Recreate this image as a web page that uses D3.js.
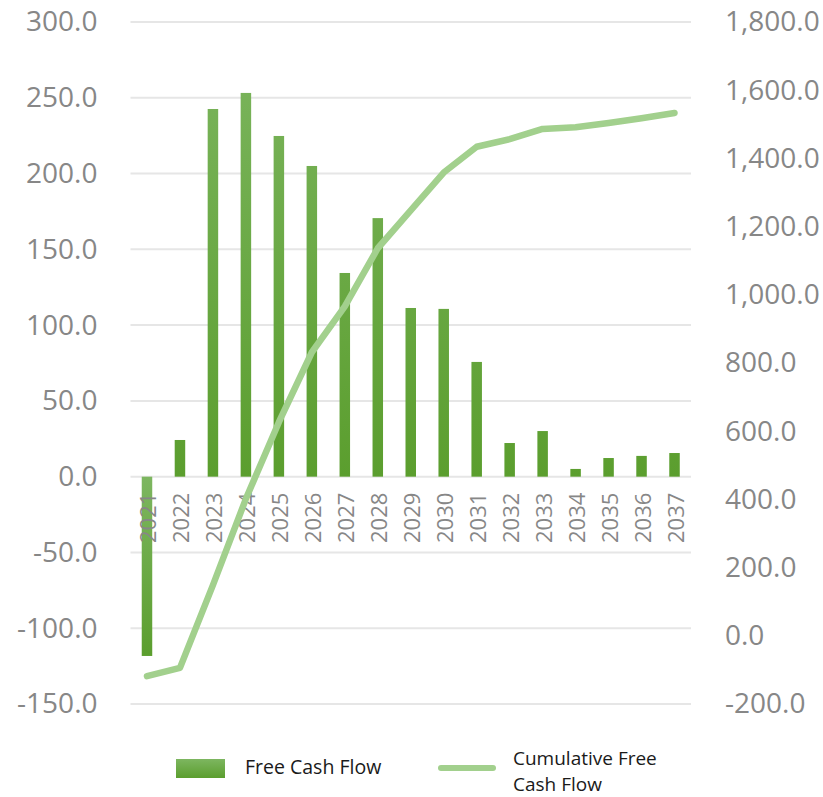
<!DOCTYPE html>
<html><head><meta charset="utf-8">
<script src="https://cdn.jsdelivr.net/npm/d3@7"></script>
<style>body{margin:0;background:#fff}svg{display:block}</style>
</head><body>
<svg id="chart" width="823" height="797"></svg>
<script>
const years = ["2021","2022","2023","2024","2025","2026","2027","2028","2029","2030","2031","2032","2033","2034","2035","2036","2037"];
const freeCashFlow = [-118.3, 24.2, 242.6, 253.2, 224.8, 205.0, 134.4, 170.6, 111.3, 110.7, 75.7, 22.2, 30.1, 5.1, 12.3, 13.7, 15.6];
const cumulativeFCF = [-118.3, -94.1, 148.5, 401.7, 626.5, 831.5, 965.9, 1136.5, 1247.8, 1358.5, 1434.2, 1456.4, 1486.5, 1491.6, 1503.9, 1517.6, 1533.2];
const leftTicks = [-150, -100, -50, 0, 50, 100, 150, 200, 250, 300];
const rightTicks = [-200, 0, 200, 400, 600, 800, 1000, 1200, 1400, 1600, 1800];
const seriesNames = ["Free Cash Flow", "Cumulative Free Cash Flow"];

(function () {
const svg = d3.select("#chart");
const font = "'Open Sans', 'Noto Sans', sans-serif";
const pL = 130.5, pR = 691, pT = 22, pB = 704;
const gray = "#878787";

const x = d3.scaleBand().domain(years).range([pL, pR]);
const yL = d3.scaleLinear().domain([-150, 300]).range([pB, pT]);
const yR = d3.scaleLinear().domain([-200, 1800]).range([pB, pT]);

const fmtL = d => d3.format(".1f")(d).replace("\u2212", "-");
const fmtR = d => d3.format(",.1f")(d).replace("\u2212", "-");

const defs = svg.append("defs");
const grad = defs.append("linearGradient").attr("id", "barGrad")
  .attr("x1", 0).attr("y1", 0).attr("x2", 0).attr("y2", 1);
grad.append("stop").attr("offset", "0%").attr("stop-color", "#7db660");
grad.append("stop").attr("offset", "100%").attr("stop-color", "#5b9e2e");
const grad2 = defs.append("linearGradient").attr("id", "barGradAbs")
  .attr("gradientUnits", "userSpaceOnUse")
  .attr("x1", 0).attr("y1", pT).attr("x2", 0).attr("y2", yL(0));
grad2.append("stop").attr("offset", "0%").attr("stop-color", "#7db660");
grad2.append("stop").attr("offset", "100%").attr("stop-color", "#5b9e2e");

// gridlines
svg.append("g").selectAll("line").data(leftTicks).join("line")
  .attr("x1", pL).attr("x2", pR)
  .attr("y1", d => yL(d)).attr("y2", d => yL(d))
  .attr("stroke", "#e6e6e6").attr("stroke-width", 2);

// left axis
const axL = svg.append("g").attr("transform", `translate(${pL - 33},0)`)
  .call(d3.axisLeft(yL).tickValues(leftTicks).tickFormat(fmtL).tickSize(0).tickPadding(0));
axL.select(".domain").remove();
axL.selectAll("text").attr("fill", gray).style("font-family", font).style("font-size", "28px");

// right axis
const axR = svg.append("g").attr("transform", `translate(${pR + 34},0)`)
  .call(d3.axisRight(yR).tickValues(rightTicks).tickFormat(fmtR).tickSize(0).tickPadding(0));
axR.select(".domain").remove();
axR.selectAll("text").attr("fill", gray).style("font-family", font).style("font-size", "28px");

// bars
const bw = 10.5;
svg.append("g").selectAll("rect").data(years).join("rect")
  .attr("x", (d) => x(d) + x.bandwidth() / 2 - bw / 2)
  .attr("width", bw)
  .attr("y", (d, i) => Math.min(yL(freeCashFlow[i]), yL(0)))
  .attr("height", (d, i) => Math.abs(yL(freeCashFlow[i]) - yL(0)))
  .attr("fill", (d, i) => freeCashFlow[i] < 0 ? "url(#barGrad)" : "url(#barGradAbs)");

// x labels
svg.append("g").selectAll("text").data(years).join("text")
  .attr("transform", d => `translate(${x(d) + x.bandwidth() / 2 + 9},${yL(0) + 16}) rotate(-90)`)
  .attr("text-anchor", "end")
  .attr("fill", gray).style("font-family", font).style("font-size", "22px")
  .text(d => d);

// line
const line = d3.line()
  .x((d, i) => x(years[i]) + x.bandwidth() / 2)
  .y(d => yR(d));
svg.append("path").datum(cumulativeFCF)
  .attr("d", line).attr("fill", "none")
  .attr("stroke", "#a2d08d").attr("stroke-width", 6.5)
  .attr("stroke-linejoin", "round").attr("stroke-linecap", "round");

// legend
const lg = svg.append("g");
lg.append("rect").attr("x", 176).attr("y", 759).attr("width", 49).attr("height", 19).attr("fill", "url(#barGrad)");
lg.append("text").attr("x", 245).attr("y", 774).text(seriesNames[0])
  .attr("fill", "#1a1a1a").style("font-family", font).style("font-size", "19.5px");
lg.append("line").attr("x1", 441).attr("x2", 493).attr("y1", 768).attr("y2", 768)
  .attr("stroke", "#a2d08d").attr("stroke-width", 6).attr("stroke-linecap", "round");
lg.append("text").attr("x", 513).attr("y", 765).text("Cumulative Free")
  .attr("fill", "#1a1a1a").style("font-family", font).style("font-size", "19px");
lg.append("text").attr("x", 513).attr("y", 791).text("Cash Flow")
  .attr("fill", "#1a1a1a").style("font-family", font).style("font-size", "19px");
})();
</script>
</body></html>
